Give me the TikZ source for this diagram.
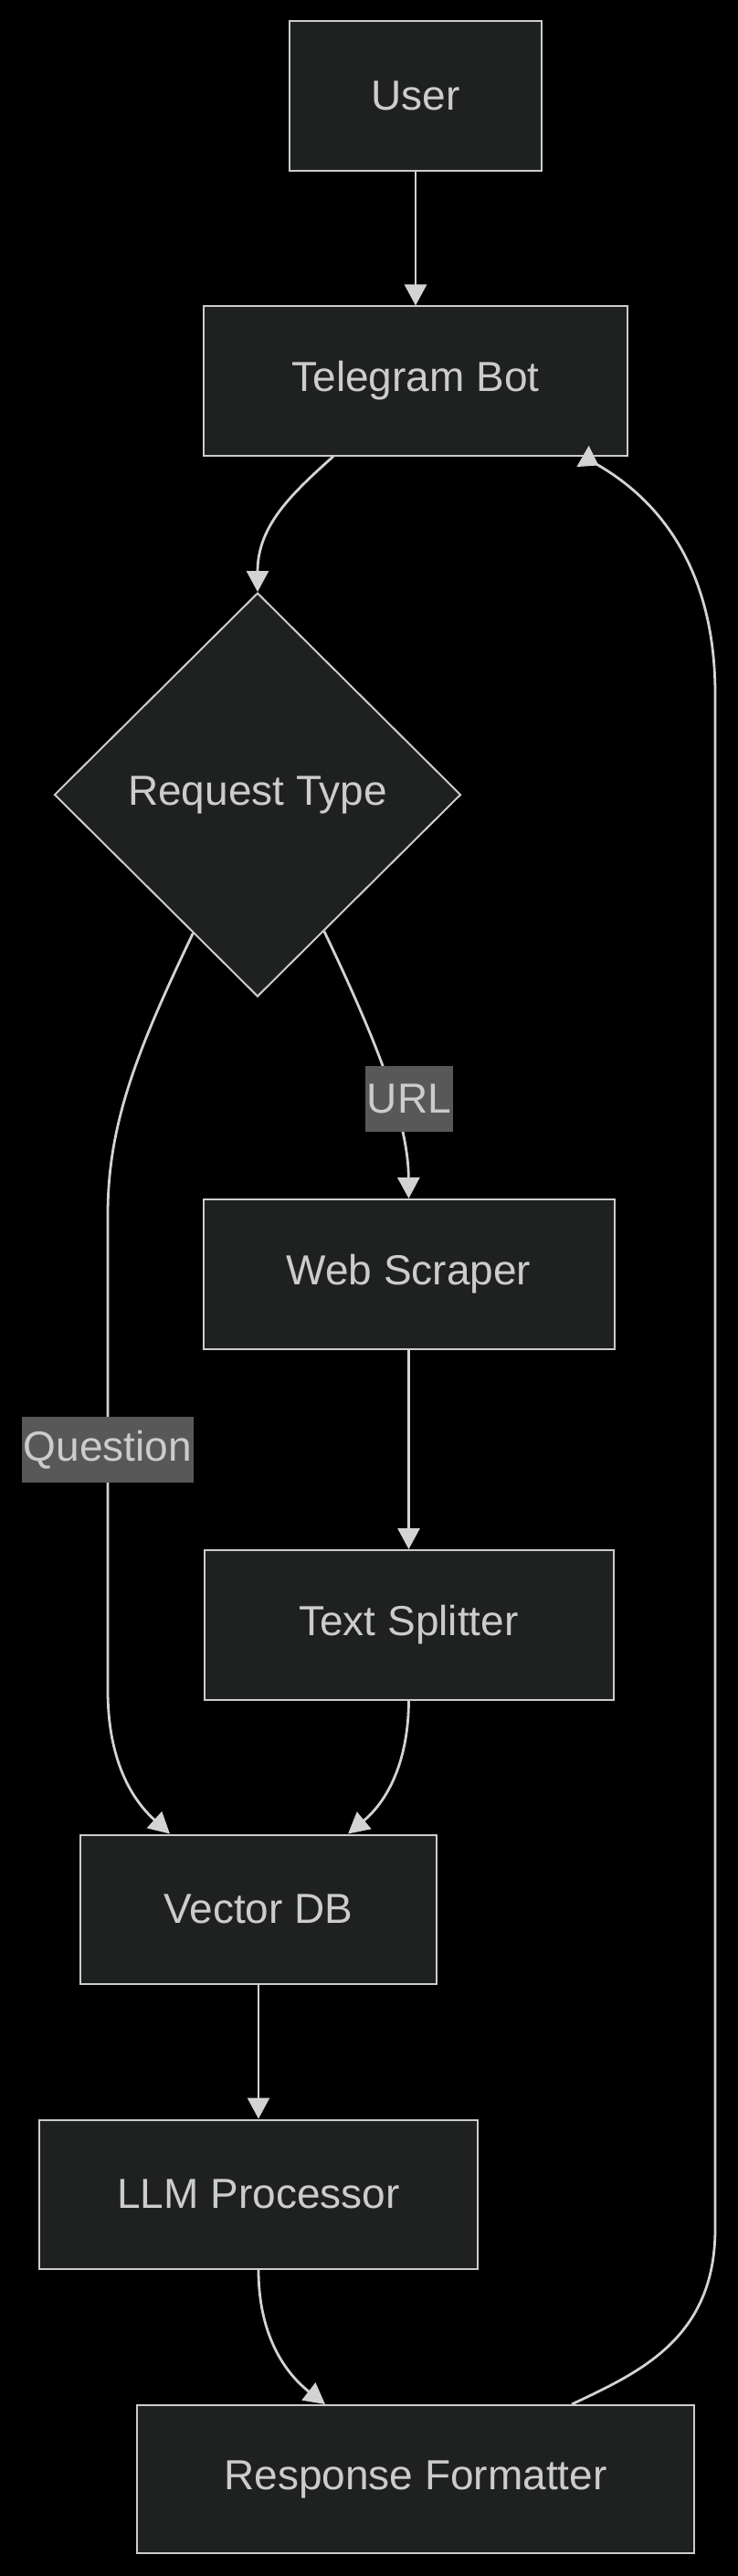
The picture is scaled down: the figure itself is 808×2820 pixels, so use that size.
\documentclass[tikz,border=0pt]{standalone}
\usepackage{fontspec}
\setmainfont{Liberation Sans}
\usetikzlibrary{shapes.geometric, arrows.meta}
\definecolor{nodefill}{HTML}{1F2020}
\definecolor{edgecol}{HTML}{CCCCCC}
\definecolor{linecol}{HTML}{D3D3D3}
\definecolor{lblfill}{HTML}{585858}
\tikzstyle{bx}=[shape=rectangle, draw=edgecol, fill=nodefill, line width=2pt, text=edgecol, inner sep=0, font=\fontsize{46}{55}\selectfont]
\tikzstyle{dm}=[bx, shape=diamond, minimum width=445pt, minimum height=442pt]
\tikzstyle{lb}=[fill=lblfill, text=edgecol, inner xsep=2pt, inner ysep=0, minimum height=72pt, font=\fontsize{46}{55}\selectfont]
\tikzstyle{ar}=[draw=linecol, line width=2.8pt, -{Triangle[length=23pt, width=24pt]}]
\tikzstyle{rar}=[draw=linecol, line width=2.8pt, -{Triangle[reversed, length=20pt, width=26pt]}]

\begin{document}
\begin{tikzpicture}[x=1pt, y=1pt]
\fill[black] (0,0) rectangle (808,-2820);
\useasboundingbox (0,0) rectangle (808,-2820);
\node at (455,-105)[bx, minimum width=276pt, minimum height=164pt](u){User};
\node at (455,-417)[bx, minimum width=464pt, minimum height=163pt](tb){Telegram Bot};
\node at (282,-870)[dm](rt){Request Type};
\node at (447.5,-1395)[bx, minimum width=450pt, minimum height=164pt](ws){Web Scraper};
\node at (447.5,-1779)[bx, minimum width=448pt, minimum height=164pt](ts){Text Splitter};
\node at (283,-2090)[bx, minimum width=390pt, minimum height=163pt](vdb){Vector DB};
\node at (283,-2402)[bx, minimum width=480pt, minimum height=163pt](llm){LLM Processor};
\node at (455,-2714)[bx, minimum width=610pt, minimum height=162pt](rf){Response Formatter};
\draw[ar] (u)--(tb);
\draw[ar] ([xshift=-90pt]tb.south) .. controls (320,-540) and (282,-575) .. (rt.north);
\draw[ar] (rt.-64) .. controls (415,-1145) and (447,-1230) .. (ws.north);
\draw[ar] (rt.-115) .. controls (150,-1150) and (118,-1230) .. (118,-1330) -- (118,-1850) .. controls (118,-1935) and (150,-1975) .. ([xshift=-97pt]vdb.north);
\draw[ar] (ws)--(ts);
\draw[ar] (ts.south) .. controls (447,-1935) and (420,-1975) .. ([xshift=98pt]vdb.north);
\draw[ar] (vdb)--(llm);
\draw[ar] (llm.south) .. controls (283,-2560) and (315,-2600) .. ([xshift=-99pt]rf.north);
% back to the bot
\draw[rar] ([xshift=171pt]rf.north) .. controls (700,-2597) and (783,-2560) .. (783,-2440) -- (783,-760) .. controls (783,-600) and (700,-535) .. ([xshift=183pt]tb.south);
\node at (448,-1203)[lb](url){URL};
\node at (118,-1587)[lb](q){Question};
\end{tikzpicture}
\end{document}
